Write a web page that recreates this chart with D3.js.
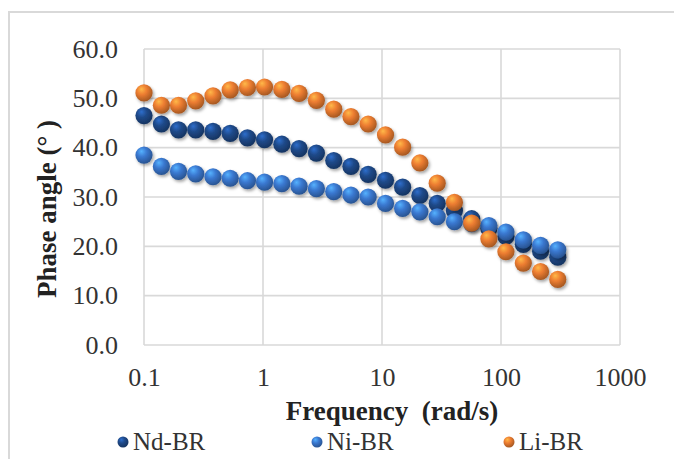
<!DOCTYPE html>
<html>
<head>
<meta charset="utf-8">
<script src="https://cdn.jsdelivr.net/npm/d3@7"></script>
<style>
  body { margin: 0; background: #fff; }
  svg text { font-family: "Liberation Serif", "Times New Roman", "DejaVu Serif", serif; }
</style>
</head>
<body>
<svg id="chart" width="674" height="459"></svg>
<script>
// frequency (rad/s), log spaced sweep
const freq = [0.1, 0.14, 0.195, 0.272, 0.38, 0.53, 0.74, 1.03, 1.44, 2.01, 2.81, 3.93, 5.48,
              7.65, 10.7, 14.9, 20.8, 29.1, 40.6, 56.7, 79.1, 110, 154, 215, 300];

const ndBR = [46.5, 44.8, 43.6, 43.6, 43.3, 42.9, 42.0, 41.6, 40.7, 39.8, 38.9, 37.4, 36.2,
              34.6, 33.4, 32.0, 30.3, 28.7, 27.2, 25.6, 23.6, 22.0, 20.4, 19.0, 17.8];
const niBR = [38.5, 36.2, 35.2, 34.7, 34.1, 33.8, 33.3, 33.0, 32.7, 32.2, 31.7, 31.1, 30.4,
              30.0, 28.7, 27.7, 27.0, 26.0, 25.0, 24.6, 24.2, 22.9, 21.3, 20.2, 19.3];
const liBR = [51.1, 48.6, 48.6, 49.5, 50.5, 51.7, 52.2, 52.3, 51.8, 51.0, 49.6, 47.8, 46.3,
              44.8, 42.6, 40.1, 36.9, 32.8, 28.9, 24.7, 21.5, 18.9, 16.6, 14.9, 13.3];

const seriesNames = ["Nd-BR", "Ni-BR", "Li-BR"];
const seriesColors = ["#1f4a8a", "#3a78d0", "#ed7d31"];
const xTicks = [0.1, 1, 10, 100, 1000];
const yTicks = [0, 10, 20, 30, 40, 50, 60];

const margin = {top: 49, right: 54, bottom: 114, left: 144},
    width = 674 - margin.left - margin.right,
    height = 459 - margin.top - margin.bottom;

const serif = '"Liberation Serif", "Times New Roman", "DejaVu Serif", serif';
const svg = d3.select("#chart");

// outer chart frame (only left and top edges are visible)
svg.append("path")
    .attr("d", "M9,459 V12 H674")
    .attr("fill", "none")
    .attr("stroke", "#d9d9d9")
    .attr("stroke-width", 2);

const defs = svg.append("defs");
seriesColors.forEach((c, i) => {
    const g = defs.append("radialGradient")
        .attr("id", "ball" + i)
        .attr("cx", "40%").attr("cy", "35%").attr("r", "65%")
        .attr("fx", "35%").attr("fy", "28%");
    g.append("stop").attr("offset", "0%").attr("stop-color", d3.color(c).brighter(1.1));
    g.append("stop").attr("offset", "45%").attr("stop-color", c);
    g.append("stop").attr("offset", "100%").attr("stop-color", d3.color(c).darker(1.0));
});
const shadow = defs.append("filter").attr("id", "shadow")
    .attr("x", "-50%").attr("y", "-50%").attr("width", "200%").attr("height", "200%");
shadow.append("feDropShadow")
    .attr("dx", 1.5).attr("dy", 2).attr("stdDeviation", 1.5)
    .attr("flood-color", "#000").attr("flood-opacity", 0.35);

const chart = svg.append("g")
    .attr("transform", `translate(${margin.left}, ${margin.top})`);

const x = d3.scaleLog().domain([0.1, 1000]).range([0, width]);
const y = d3.scaleLinear().domain([0, 60]).range([height, 0]);

// grid
chart.append("g").selectAll("line.h")
    .data(yTicks)
    .enter().append("line")
        .attr("x1", 0).attr("x2", width)
        .attr("y1", d => y(d)).attr("y2", d => y(d))
        .attr("stroke", "#d9d9d9").attr("stroke-width", 1.6);
chart.append("g").selectAll("line.v")
    .data(xTicks)
    .enter().append("line")
        .attr("x1", d => x(d)).attr("x2", d => x(d))
        .attr("y1", 0).attr("y2", height)
        .attr("stroke", "#d9d9d9").attr("stroke-width", 1.6);

// axes (labels only, lines come from the grid)
const yAxis = chart.append("g")
    .call(d3.axisLeft(y).tickValues(yTicks).tickFormat(d3.format(".1f")).tickSize(0).tickPadding(26));
const xAxis = chart.append("g")
    .attr("transform", `translate(0, ${height})`)
    .call(d3.axisBottom(x).tickValues(xTicks).tickFormat(d => String(d)).tickSize(0).tickPadding(23));
[yAxis, xAxis].forEach(a => {
    a.attr("font-family", null).attr("font-size", null);
    a.select(".domain").remove();
    a.selectAll("text")
        .style("font-family", serif)
        .style("font-size", "26px")
        .attr("fill", "#333");
});

// series
const allSeries = [ndBR, niBR, liBR];
allSeries.forEach((vals, i) => {
    chart.append("g")
        .attr("filter", "url(#shadow)")
        .selectAll("circle")
        .data(vals.map((v, k) => [freq[k], v]))
        .enter().append("circle")
            .attr("cx", d => x(d[0]))
            .attr("cy", d => y(d[1]))
            .attr("r", 8.6)
            .attr("fill", `url(#ball${i})`);
});

// axis titles
svg.append("text")
    .attr("x", 392).attr("y", 420)
    .attr("text-anchor", "middle")
    .style("font-family", serif)
    .style("font-size", "27px").style("font-weight", "bold")
    .attr("fill", "#222")
    .style("white-space", "pre")
    .text("Frequency  (rad/s)");

svg.append("text")
    .attr("transform", "translate(56, 209) rotate(-90)")
    .attr("text-anchor", "middle")
    .style("font-family", serif)
    .style("font-size", "27px").style("font-weight", "bold")
    .attr("fill", "#222")
    .text("Phase angle (° )");

// legend
const legendX = [123, 317, 509];
const legend = svg.append("g");
seriesNames.forEach((name, i) => {
    legend.append("circle")
        .attr("cx", legendX[i]).attr("cy", 442)
        .attr("r", 5.5)
        .attr("fill", `url(#ball${i})`);
    legend.append("text")
        .attr("x", legendX[i] + 10).attr("y", 450)
        .style("font-family", serif)
        .style("font-size", "25px")
        .attr("fill", "#333")
        .text(name);
});
</script>
</body>
</html>
